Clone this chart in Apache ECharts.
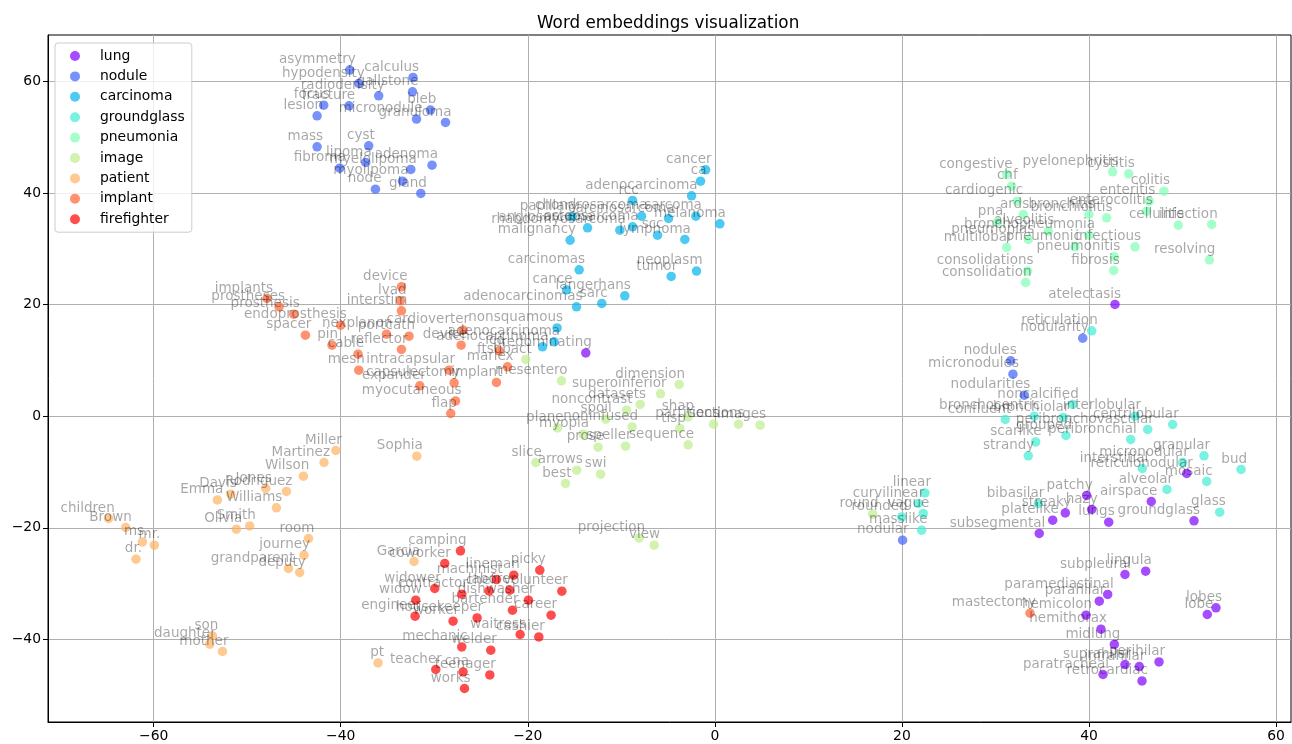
<!DOCTYPE html>
<html><head><meta charset="utf-8">
<script src="https://cdn.jsdelivr.net/npm/echarts@6/dist/echarts.min.js"></script>
<style>html,body{margin:0;padding:0;background:#fff}#c{width:1292px;height:744px}</style>
</head><body><div id="c"></div>
<script>
const categories = ['lung','nodule','carcinoma','groundglass','pneumonia','image','patient','implant','firefighter'];
const colors = ['#8000ff','#4062fa','#00b4ec','#40ecd4','#80ffb4','#bfec8e','#ffb462','#ff6232','#ff0000'];
const xTicks = [-60,-40,-20,0,20,40,60];
const yTicks = [-40,-20,0,20,40,60];

const lung = [
 [42.78,20.02,'atelectasis'],[-13.80,11.34,'predominating'],[50.45,-10.27,'reticulonodular'],
 [46.66,-15.29,'airspace'],[51.23,-18.76,'groundglass'],[39.75,-14.21,'patchy'],[40.29,-16.72,'hazy'],
 [42.11,-19.00,'lungs'],[37.47,-17.33,'streaky'],[36.12,-18.64,'platelike'],[34.68,-21.02,'subsegmental'],
 [46.06,-27.78,'lingula'],[43.85,-28.37,'subpleural'],[42.00,-31.95,'paramediastinal'],[41.10,-33.15,'parahilar'],
 [53.58,-34.35,'lobes'],[52.65,-35.54,'lobe'],[39.68,-35.66,'hemicolon'],[41.28,-38.17,'hemithorax'],
 [42.71,-40.91,'midlung'],[47.49,-44.03,'perihilar'],[43.85,-44.50,'suprahilar'],[45.38,-44.86,'infrahilar'],
 [41.50,-46.29,'paratracheal'],[45.67,-47.44,'retrocardiac']
];
const nodule = [
 [-39.04,62.01,'asymmetry'],[-32.27,60.70,'calculus'],[-38.07,59.62,'hypodensity'],[-32.33,58.12,'gallstone'],
 [-35.94,57.40,'radiodensity'],[-41.82,55.73,'focus'],[-39.11,55.61,'fracture'],[-30.41,54.84,'bleb'],
 [-42.53,53.82,'lesion'],[-31.90,53.23,'micronodule'],[-28.80,52.63,'granuloma'],[-42.53,48.26,'mass'],
 [-37.01,48.44,'cyst'],[-30.24,44.98,'adenoma'],[-37.33,45.47,'lipoma'],[-40.11,44.44,'fibroma'],
 [-32.51,44.21,'myelolipoma'],[-33.40,42.11,'myolipoma'],[-36.29,40.68,'node'],[-31.44,39.91,'gland'],
 [39.33,13.98,'nodularity'],[31.63,9.91,'nodules'],[31.87,7.53,'micronodules'],[33.08,3.76,'nodularities'],
 [20.07,-22.22,'nodular']
];
const carcinoma = [
 [-0.99,44.14,'cancer'],[-1.53,42.11,'ca'],[-2.49,39.48,'adenocarcinoma'],[-8.80,38.66,'rcc'],
 [-2.03,35.84,'sarcoma'],[0.53,34.46,'melanoma'],[-7.84,35.84,'chondrosarcoma'],[-15.26,35.72,'papillary'],
 [-13.61,33.75,'angiosarcoma'],[-10.16,33.33,'rhabdomyosarcoma'],[-8.80,33.92,'osteosarcoma'],
 [-3.21,31.67,'lymphoma'],[-6.13,32.44,'scc'],[-4.95,35.43,'carcinosarcoma'],[-15.48,31.54,'malignancy'],
 [-14.51,26.22,'carcinomas'],[-1.96,25.99,'neoplasm'],[-4.67,25.04,'tumor'],[-15.86,22.63,'cance'],
 [-9.63,21.56,'langerhans'],[-14.79,19.59,'adenocarcinomas'],[-12.09,20.20,'sarc'],[-16.87,15.82,'nonsquamous'],
 [-17.19,13.32,'adenocarcinoma'],[-18.43,12.42,'adenocarcinoma']
];
const groundglass = [
 [40.29,15.29,'reticulation'],[38.26,2.10,'noncalcified'],[44.92,0.00,'interlobular'],[48.95,-1.49,'centrilobular'],
 [34.15,0.00,'bronchocentric'],[31.05,-0.59,'confluent'],[37.25,-0.23,'bronchiolar'],[46.28,-2.38,'peribronchovascular'],
 [37.54,-3.46,'grouped'],[44.46,-4.18,'peribronchial'],[34.30,-4.61,'scarlike'],[33.51,-7.11,'strandy'],
 [52.30,-7.11,'granular'],[50.02,-8.30,'micronodular'],[45.70,-9.37,'interstitial'],[52.59,-11.70,'mosaic'],
 [56.26,-9.55,'bud'],[48.34,-13.14,'alveolar'],[53.98,-17.20,'glass'],[34.58,-15.65,'bibasilar'],
 [22.46,-13.75,'linear'],[21.74,-15.65,'curvilinear'],[22.28,-17.44,'vague'],[19.97,-18.05,'rounded'],
 [22.11,-20.43,'masslike']
];
const pneumonia = [
 [31.20,43.32,'congestive'],[31.73,41.22,'chf'],[42.53,43.78,'pyelonephritis'],[44.25,43.42,'cystitis'],
 [48.02,40.32,'colitis'],[46.45,38.53,'enteritis'],[46.17,36.74,'enterocolitis'],[32.33,38.53,'cardiogenic'],
 [32.97,36.15,'ards'],[40.00,36.15,'bronchitis'],[41.89,35.54,'bronchiolitis'],[30.19,34.82,'pna'],
 [35.65,33.15,'alveolitis'],[40.00,32.44,'bronchopneumonia'],[33.51,31.67,'pneumonias'],[31.20,30.23,'multilobar'],
 [38.50,30.34,'pneumonic'],[44.92,30.34,'infectious'],[42.71,28.55,'pneumonitis'],[42.64,26.11,'fibrosis'],
 [52.87,28.01,'resolving'],[49.55,34.23,'cellulitis'],[53.12,34.35,'infection'],[33.44,25.99,'consolidations'],
 [33.23,23.96,'consolidation']
];
const image = [
 [-3.82,5.68,'dimension'],[-5.81,4.00,'superoinferior'],[-7.99,2.10,'datasets'],[-9.44,1.08,'noncontrast'],
 [-11.66,-0.54,'spoil'],[-8.84,-1.92,'noninfused'],[-16.82,-2.10,'plane'],[-14.09,-3.23,'myopia'],
 [-12.48,-5.56,'prose'],[-9.55,-5.38,'speller'],[-2.86,-0.13,'shap'],[-0.14,-1.43,'partitions'],
 [-3.74,-2.20,'tisp'],[2.53,-1.43,'sections'],[4.84,-1.61,'images'],[-2.86,-5.14,'sequence'],
 [-19.14,-8.30,'slice'],[-14.76,-9.68,'arrows'],[-12.22,-10.39,'swi'],[-15.97,-12.06,'best'],
 [-8.10,-21.81,'projection'],[-6.49,-23.12,'view'],[-16.40,6.33,'mesentero'],[-20.21,10.16,'ftsubact'],
 [16.87,-17.56,'round']
];
const patient = [
 [-40.53,-6.15,'Miller'],[-41.79,-8.30,'Martinez'],[-43.99,-10.75,'Wilson'],[-48.02,-12.96,'Jones'],
 [-45.81,-13.49,'Rodriguez'],[-51.76,-13.98,'Davis'],[-53.19,-15.00,'Emma'],[-46.88,-16.43,'Williams'],
 [-64.81,-18.33,'children'],[-62.99,-19.95,'Brown'],[-51.16,-20.25,'Olivia'],[-49.73,-19.66,'Smith'],
 [-61.21,-22.53,'ms.'],[-59.93,-23.12,'mr.'],[-61.89,-25.63,'dr.'],[-43.45,-21.92,'room'],
 [-43.93,-24.91,'journey'],[-45.59,-27.29,'grandparent'],[-44.39,-28.01,'deputy'],[-53.72,-39.37,'son'],
 [-54.01,-40.86,'daughter'],[-52.65,-42.17,'mother'],[-31.87,-7.17,'Sophia'],[-32.16,-26.04,'Garcia'],
 [-36.01,-44.21,'pt']
];
const implant = [
 [-47.88,21.09,'implants'],[-46.60,19.59,'prostheses'],[-45.03,18.28,'prosthesis'],[-40.00,16.31,'endoprosthesis'],
 [-43.78,14.52,'spacer'],[-40.93,12.72,'pin'],[-38.15,11.11,'cable'],[-38.07,8.24,'mesh'],
 [-35.11,14.70,'nexplanon'],[-33.51,23.17,'device'],[-33.61,20.66,'lvad'],[-33.51,18.87,'interstim'],
 [-32.70,14.34,'portcath'],[-33.51,11.95,'reflector'],[-26.92,15.41,'cardioverter'],[-27.13,12.72,'device'],
 [-28.42,8.24,'intracapsular'],[-27.88,5.97,'capsulectomy'],[-31.55,5.43,'expander'],[-27.73,2.74,'myocutaneous'],
 [-28.24,0.48,'flap'],[-23.07,11.70,'icd'],[-22.17,8.84,'marlex'],[-23.35,6.04,'implant'],
 [33.69,-35.30,'mastectomy']
];
const firefighter = [
 [-27.20,-24.14,'camping'],[-28.88,-26.40,'coworker'],[-18.72,-27.60,'picky'],[-21.50,-28.49,'lineman'],
 [-23.35,-29.27,'machinist'],[-29.95,-30.88,'widower'],[-27.06,-31.90,'contractor'],[-24.14,-31.31,'chef'],
 [-21.93,-31.18,'laborer'],[-16.36,-31.36,'volunteer'],[-19.93,-32.97,'dishwasher'],[-31.98,-32.97,'widow'],
 [-32.05,-35.84,'engineer'],[-27.99,-36.74,'worker'],[-25.42,-36.15,'housekeeper'],[-21.64,-34.77,'bartender'],
 [-17.51,-35.66,'career'],[-20.82,-39.12,'waitress'],[-18.82,-39.55,'cashier'],[-27.06,-41.34,'mechanic'],
 [-23.96,-41.94,'welder'],[-29.84,-45.39,'teacher'],[-26.92,-45.82,'cna'],[-24.06,-46.36,'teenager'],
 [-26.77,-48.80,'works']
];

const groups = [lung, nodule, carcinoma, groundglass, pneumonia, image, patient, implant, firefighter];
const FONT = 'DejaVu Sans';
const fmt = (ticks) => (v) => ticks.indexOf(Math.round(v*1000)/1000) >= 0 ? String(v).replace('-', '\u2212') : '';

const series = categories.map((name, i) => ({
  name, type: 'scatter', symbol: 'circle', symbolSize: 9.5,
  itemStyle: { color: colors[i], opacity: 0.7 },
  data: groups[i].map(d => ({ value: [d[0], d[1]], name: d[2] })),
  label: { show: true, formatter: '{b}', position: [10.75, 1.4], align: 'right', verticalAlign: 'bottom',
           color: 'rgba(0,0,0,0.5)', fontSize: 13.5, fontFamily: FONT },
  emphasis: { disabled: true },
  animation: false
}));

const chart = echarts.init(document.getElementById('c'), null, { renderer: 'canvas' });
chart.setOption({
  animation: false,
  backgroundColor: '#fff',
  title: { text: 'Word embeddings visualization', left: 537, top: 15, padding: 0,
           textStyle: { fontSize: 16.8, fontWeight: 'normal', color: '#000', fontFamily: FONT } },
  legend: { data: categories, left: 55, top: 43, orient: 'vertical', padding: [2.8, 7, 2.8, 15],
            itemWidth: 10, itemHeight: 10, itemGap: 0, icon: 'circle', selectedMode: false,
            backgroundColor: 'rgba(255,255,255,0.8)', borderColor: '#cccccc', borderWidth: 1, borderRadius: 3,
            textStyle: { fontSize: 13.9, fontFamily: FONT, color: '#000', lineHeight: 20.4, padding: [0, 0, 0, 15] } },
  grid: { left: 48, right: 1, top: 35, bottom: 22, show: true, borderColor: '#000', borderWidth: 1, backgroundColor: 'transparent' },
  xAxis: { type: 'value', min: -71.3, max: 61.6, splitNumber: 7, minInterval: 20, maxInterval: 20,
           axisLine: { show: true, onZero: false, lineStyle: { color: '#000', width: 1 } },
           axisTick: { show: true, length: 5, customValues: xTicks, lineStyle: { color: '#000' } },
           axisLabel: { color: '#000', fontSize: 13.9, fontFamily: FONT, margin: 7, customValues: xTicks, formatter: fmt(xTicks) },
           splitLine: { show: true, lineStyle: { color: '#b0b0b0', width: 1 } } },
  yAxis: { type: 'value', min: -54.8, max: 68.3, splitNumber: 6, minInterval: 20, maxInterval: 20,
           axisLine: { show: true, onZero: false, lineStyle: { color: '#000', width: 1 } },
           axisTick: { show: true, length: 5, customValues: yTicks, lineStyle: { color: '#000' } },
           axisLabel: { color: '#000', fontSize: 13.9, fontFamily: FONT, margin: 7, customValues: yTicks, formatter: fmt(yTicks) },
           splitLine: { show: true, lineStyle: { color: '#b0b0b0', width: 1 } } },
  series
});
</script></body></html>
